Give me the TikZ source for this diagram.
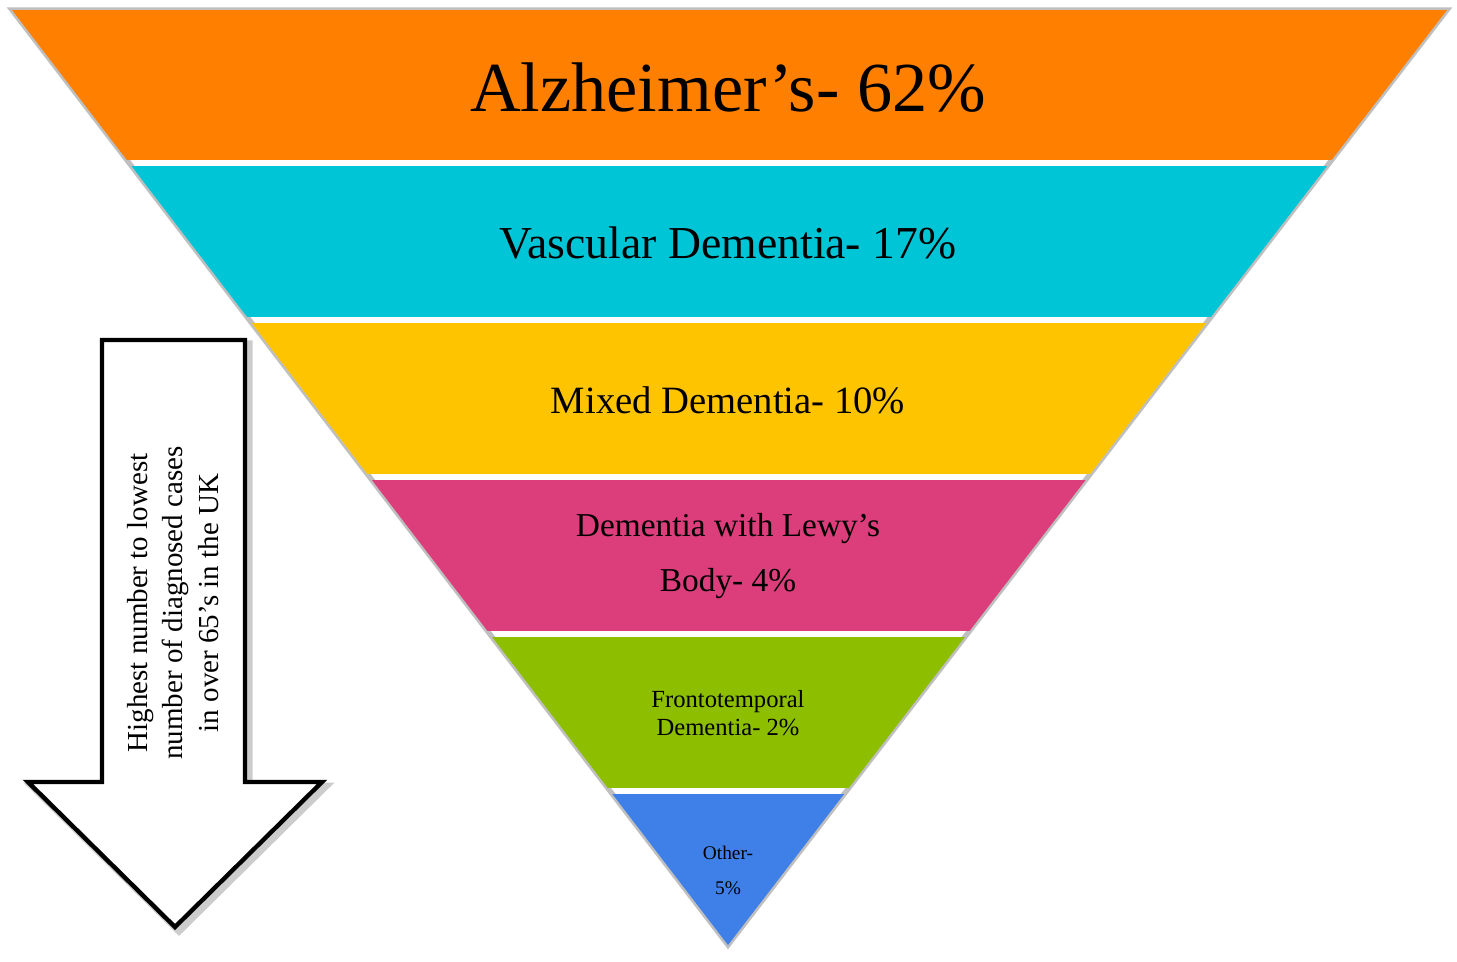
\documentclass[tikz,border=0pt]{standalone}
\usepackage{fontspec}
\setmainfont{Liberation Serif}
\definecolor{cA}{HTML}{FF7F00}
\definecolor{cB}{HTML}{00C5D6}
\definecolor{cC}{HTML}{FFC400}
\definecolor{cD}{HTML}{DB3E7B}
\definecolor{cE}{HTML}{8DBE00}
\definecolor{cF}{HTML}{3F7FE8}
\begin{document}
\begin{tikzpicture}[x=0.02cm,y=-0.02cm,
  lbl/.style={align=center,inner sep=0pt,text=black}]
\useasboundingbox (0,0) rectangle (1457,961);
\draw[gray!50,line width=3pt] (12,10)--(1447,10)--(728,945)--cycle;
\begin{scope}
\clip (12,10)--(1447,10)--(728,945)--cycle;
\fill[cA] (0,10) rectangle (1457,160);
\fill[cB] (0,166) rectangle (1457,317);
\fill[cC] (0,323) rectangle (1457,474);
\fill[cD] (0,480) rectangle (1457,631);
\fill[cE] (0,637) rectangle (1457,788);
\fill[cF] (0,794) rectangle (1457,945);
\end{scope}
\node[lbl,font=\fontsize{40}{44}\selectfont] (a) at (728,88) {Alzheimer’s- 62\%};
\node[lbl,font=\fontsize{26}{30}\selectfont] (b) at (728,243) {Vascular Dementia- 17\%};
\node[lbl,font=\fontsize{22}{26}\selectfont] (c) at (728,400) {Mixed Dementia- 10\%};
\node[lbl,font=\fontsize{19}{31}\selectfont] (d) at (728,556) {Dementia with Lewy’s\\Body- 4\%};
\node[lbl,font=\fontsize{14}{16}\selectfont] (e) at (728,713) {Frontotemporal\\Dementia- 2\%};
\node[lbl,font=\fontsize{11}{20}\selectfont] (f) at (728,870) {Other-\\5\%};
% arrow
\draw[gray!40,line width=4pt] (106,344)--(249,344)--(249,786)--(326,786)--(179,931)--(32,786)--(106,786)--cycle;
\draw[black,fill=white,line width=2.5pt,line join=miter] (102,340)--(245,340)--(245,782)--(322,782)--(175,927)--(28,782)--(102,782)--cycle;
\node[lbl,rotate=90,font=\fontsize{16.5}{20}\selectfont] (t) at (173,603) {Highest number to lowest\\number of diagnosed cases\\in over 65’s in the UK};
\end{tikzpicture}
\end{document}
